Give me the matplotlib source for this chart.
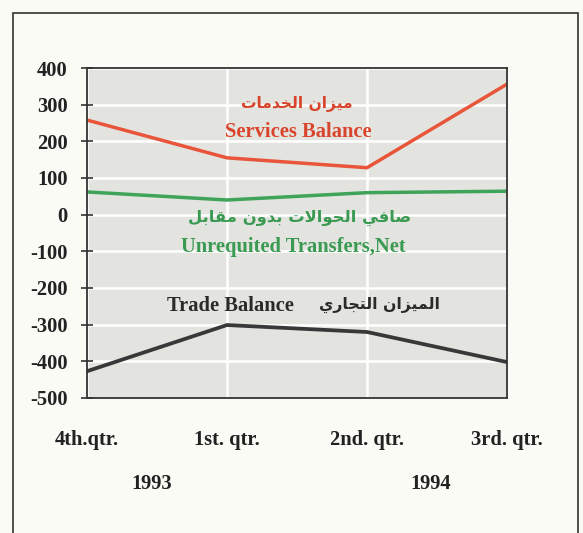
import matplotlib
matplotlib.use("Agg")
import matplotlib.pyplot as plt
from matplotlib.patches import Rectangle

quarters = ["4th.qtr.", "1st. qtr.", "2nd. qtr.", "3rd. qtr."]
years = ["1993", "1994"]
services = [258, 155, 128, 356]
transfers = [62, 40, 60, 64]
trade = [-427, -301, -320, -402]
yticks = [400, 300, 200, 100, 0, -100, -200, -300, -400, -500]

# Arabic labels, pre-shaped (presentation forms), in visual order
ar_services = "ميزان الخدمات"
ar_transfers = "صافي الحوالات بدون مقابل"
ar_trade = "الميزان التجاري"

def shaped(codes):
    return "".join(chr(c) for c in codes)[::-1]

ar_services_vis = shaped([0xFEE3, 0xFEF4, 0xFEB0, 0xFE8D, 0xFEE5, 0x20,
                          0xFE8D, 0xFEDF, 0xFEA8, 0xFEAA, 0xFEE3, 0xFE8E, 0xFE95])
ar_transfers_vis = shaped([0xFEBB, 0xFE8E, 0xFED3, 0xFEF2, 0x20,
                           0xFE8D, 0xFEDF, 0xFEA4, 0xFEEE, 0xFE8D, 0xFEFB, 0xFE95, 0x20,
                           0xFE91, 0xFEAA, 0xFEED, 0xFEE5, 0x20,
                           0xFEE3, 0xFED8, 0xFE8E, 0xFE91, 0xFEDE])
ar_trade_vis = shaped([0xFE8D, 0xFEDF, 0xFEE4, 0xFEF4, 0xFEB0, 0xFE8D, 0xFEE5, 0x20,
                       0xFE8D, 0xFEDF, 0xFE98, 0xFEA0, 0xFE8E, 0xFEAD, 0xFEF1])

serif = ["Liberation Serif", "DejaVu Sans"]
arab = ["DejaVu Sans"]
FS = 14.8

W, H = 583, 533
fig = plt.figure(figsize=(W / 100, H / 100), dpi=100)
fig.patch.set_facecolor("#fbfbf6")

fig.patches.append(Rectangle((13 / W, -0.05), (578 - 13) / W, 1 - 13 / H + 0.05,
                             transform=fig.transFigure, fill=False,
                             edgecolor="#333333", linewidth=1.2))

ax = fig.add_axes([87 / W, 1 - 398 / H, (507 - 87) / W, (398 - 68) / H])
ax.set_facecolor("#e3e4df")
x = list(range(len(quarters)))

ax.plot(x, services, color="#e8553a", lw=2.5)
ax.plot(x, transfers, color="#3fa35a", lw=2.5)
ax.plot(x, trade, color="#383838", lw=2.7)

ax.set_xlim(0, 3)
ax.set_ylim(-500, 400)
ax.set_yticks(yticks)
ax.set_yticklabels([str(v) for v in yticks], fontfamily=serif,
                   fontweight="bold", fontsize=FS, color="#222222")
ax.set_xticks(x)
ax.set_xticklabels(quarters, fontfamily=serif, fontweight="bold",
                   fontsize=FS, color="#222222")
ax.tick_params(axis="x", length=0, pad=23)
ax.tick_params(axis="y", direction="inout", length=8, width=1.2, pad=10,
               color="#333333")
ax.grid(True, color="white", linewidth=1.8)
ax.set_axisbelow(True)
for s in ax.spines.values():
    s.set_color("#333333")
    s.set_linewidth(1.3)

def ftext(px, py, s, **kw):
    fig.text(px / W, 1 - py / H, s, ha="center", va="center", **kw)

ftext(297, 104, ar_services_vis, family=arab, fontweight="bold",
      fontsize=11.2, color="#d9442c")
ftext(298, 132, "Services Balance", family=serif, fontweight="bold",
      fontsize=FS, color="#d9442c")
ftext(300, 218, ar_transfers_vis, family=arab, fontweight="bold",
      fontsize=11.8, color="#3a9a52")
ftext(293, 247, "Unrequited Transfers,Net", family=serif, fontweight="bold",
      fontsize=FS, color="#3a9a52")
ftext(230, 306, "Trade Balance", family=serif, fontweight="bold",
      fontsize=FS, color="#2a2a2a")
ftext(379, 305, ar_trade_vis, family=arab, fontweight="bold",
      fontsize=11.3, color="#2a2a2a")

ftext(152, 484, years[0], family=serif, fontweight="bold",
      fontsize=FS, color="#222222")
ftext(431, 484, years[1], family=serif, fontweight="bold",
      fontsize=FS, color="#222222")

fig.savefig("out.png", dpi=100, facecolor=fig.get_facecolor())
